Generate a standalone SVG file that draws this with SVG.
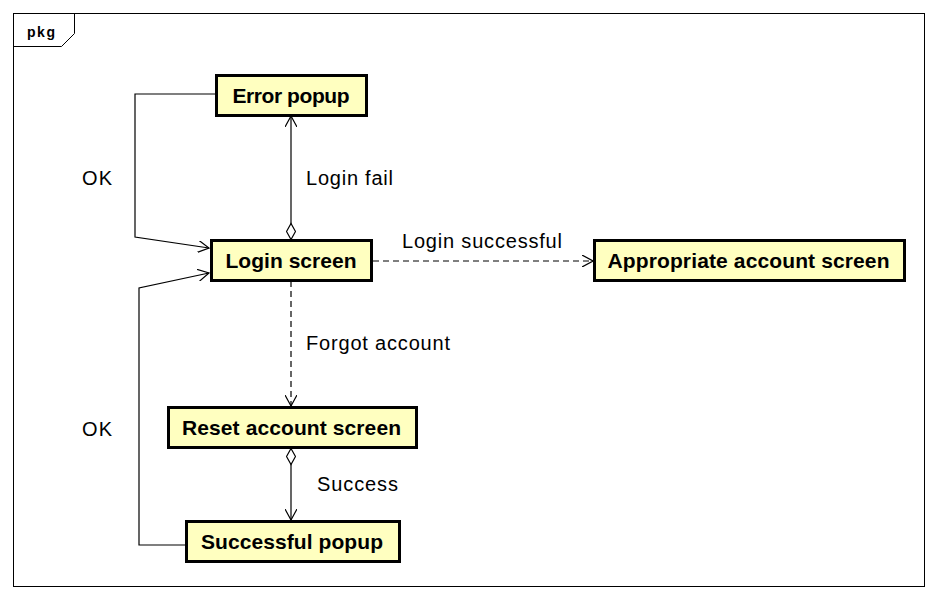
<svg xmlns="http://www.w3.org/2000/svg" width="937" height="598" viewBox="0 0 937 598">
<style>
.node rect{fill:#FFFFC0;stroke:#000;stroke-width:3}
.node text{font-family:"Liberation Sans",Arial,sans-serif;font-weight:bold;font-size:21px;text-anchor:middle;fill:#000}
.lbl{font-family:"Liberation Sans",Arial,sans-serif;font-size:20px;fill:#000}
.edge{fill:none;stroke:#000;stroke-width:1.2}
.dash{stroke-dasharray:6,4}
</style>
<defs>
<marker id="arr" viewBox="0 0 12 12" refX="11" refY="6" markerWidth="12" markerHeight="12" markerUnits="userSpaceOnUse" orient="auto">
<path d="M0,0 L11,6 L0,12" fill="none" stroke="#000" stroke-width="1.2"/>
</marker>
<marker id="dia" viewBox="0 0 18 10" refX="0" refY="5" markerWidth="18" markerHeight="10" markerUnits="userSpaceOnUse" orient="auto">
<path d="M0.5,5 L8.5,0.5 L16.5,5 L8.5,9.5 Z" fill="#fff" stroke="#000" stroke-width="1.2"/>
</marker>
</defs>
<rect x="0" y="0" width="937" height="598" fill="#fff"/>
<g id="frame">
<rect x="13.5" y="13.5" width="911" height="573" fill="none" stroke="#000" stroke-width="1"/>
<path d="M13.5,46.5 L61.5,46.5 L74.5,33.5 L74.5,13.5" fill="none" stroke="#000" stroke-width="1"/>
<text x="27" y="37" font-family="Liberation Sans,Arial,sans-serif" font-weight="bold" font-size="14" textLength="28">pkg</text>
</g>
<g id="connectors">
<path class="edge" d="M216,94 L135,94 L135,237 L209,248" marker-end="url(#arr)"/>
<path class="edge" d="M291,240 L291,116" marker-start="url(#dia)" marker-end="url(#arr)"/>
<path class="edge dash" d="M373,261 L593,261" marker-end="url(#arr)"/>
<path class="edge dash" d="M291,281 L291,406" marker-end="url(#arr)"/>
<path class="edge" d="M291,448 L291,520" marker-start="url(#dia)" marker-end="url(#arr)"/>
<path class="edge" d="M186,545 L139,545 L139,288 L209,273" marker-end="url(#arr)"/>
<text class="lbl" x="82" y="185" textLength="30">OK</text>
<text class="lbl" x="306" y="185" textLength="87">Login fail</text>
<text class="lbl" x="402" y="248" textLength="160">Login successful</text>
<text class="lbl" x="306" y="350" textLength="144">Forgot account</text>
<text class="lbl" x="317" y="491" textLength="81">Success</text>
<text class="lbl" x="82" y="436" textLength="30">OK</text>
</g>
<g id="error-popup" class="node"><rect x="216.5" y="75.5" width="150" height="40"/><text x="291" y="103" textLength="117">Error popup</text></g>
<g id="login-screen" class="node"><rect x="211.5" y="240.5" width="160" height="40"/><text x="291" y="268" textLength="131">Login screen</text></g>
<g id="appropriate-account-screen" class="node"><rect x="594.5" y="240.5" width="310" height="40"/><text x="748.5" y="268" textLength="282">Appropriate account screen</text></g>
<g id="reset-account-screen" class="node"><rect x="168.5" y="407.5" width="248" height="40"/><text x="291.5" y="435" textLength="219">Reset account screen</text></g>
<g id="successful-popup" class="node"><rect x="186.5" y="521.5" width="213" height="40"/><text x="292" y="549" textLength="182">Successful popup</text></g>
</svg>
